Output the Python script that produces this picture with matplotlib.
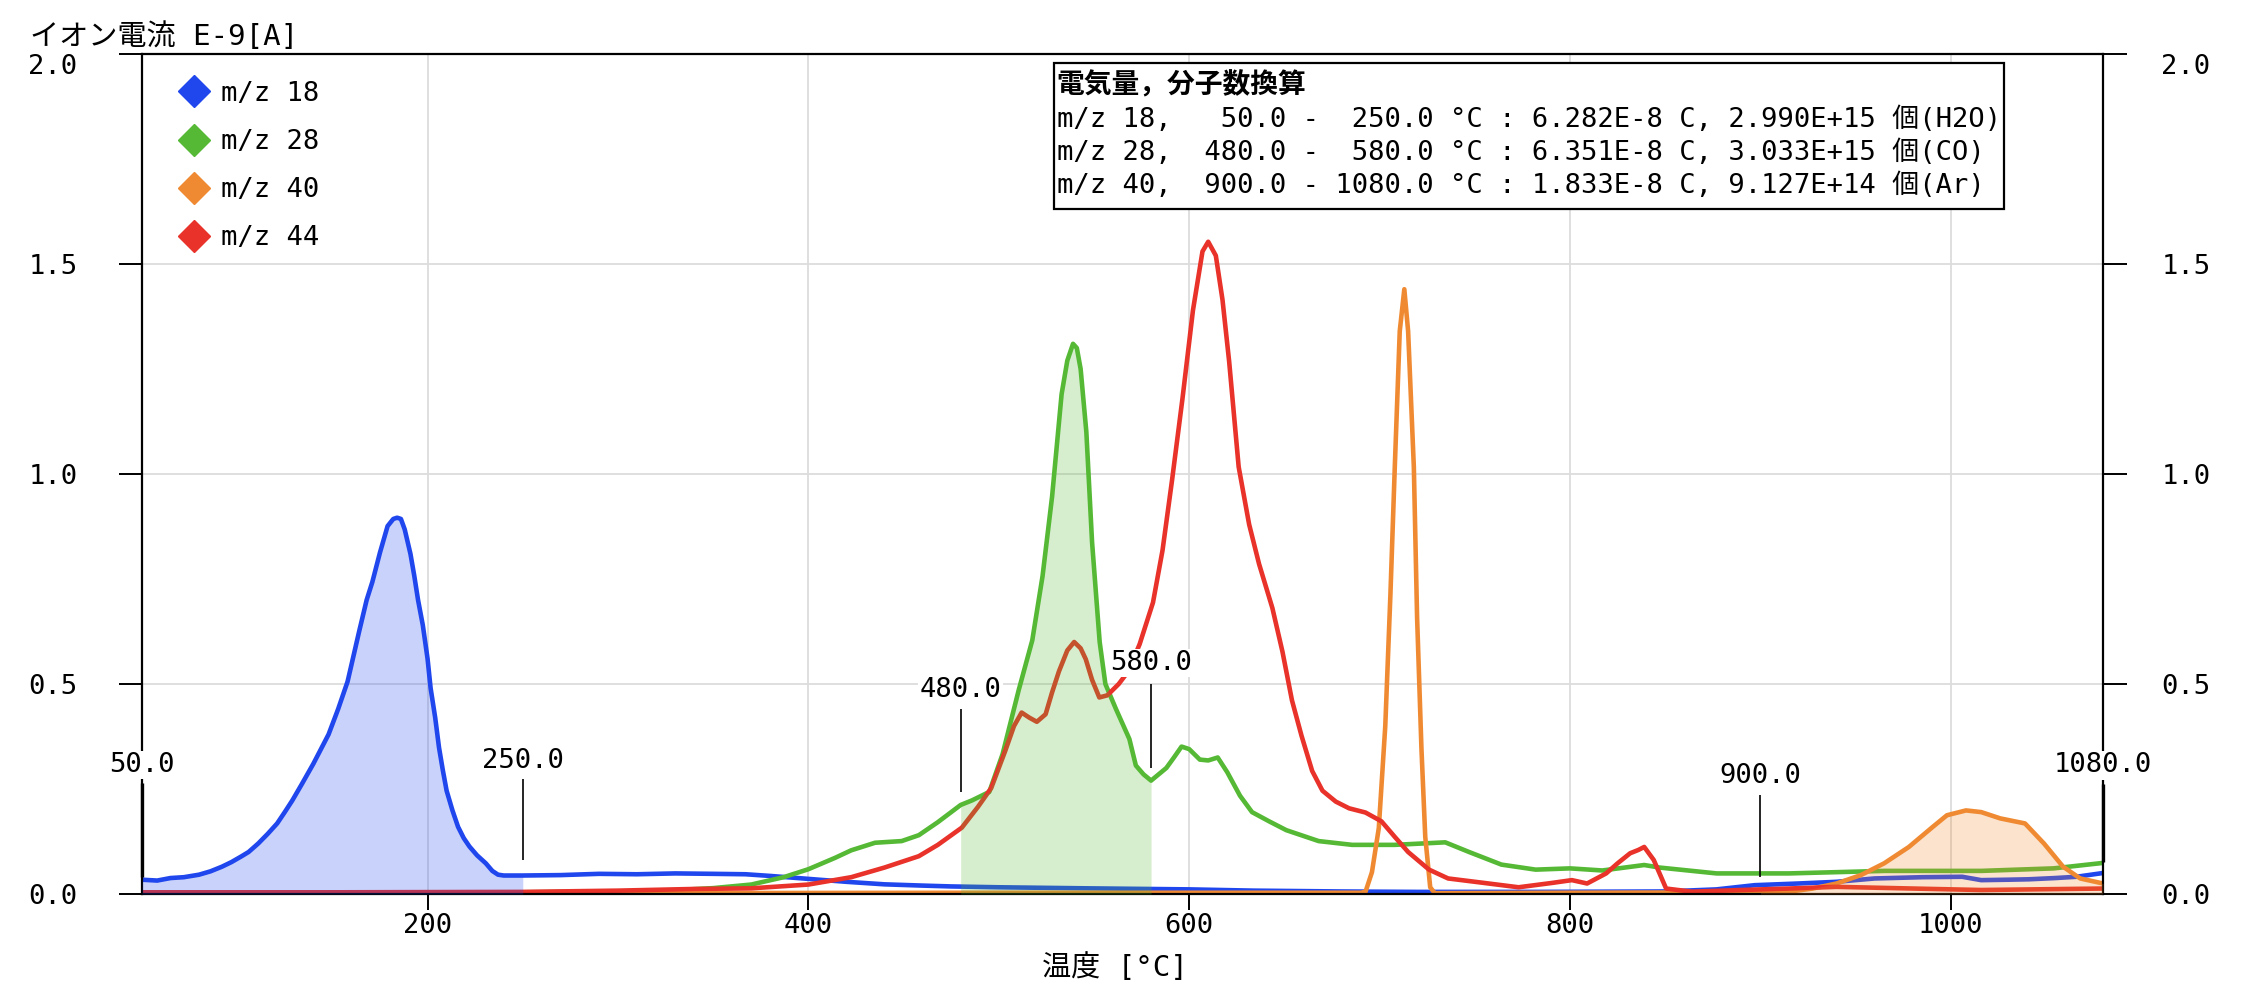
import matplotlib
matplotlib.use("Agg")
import matplotlib.pyplot as plt
import numpy as np
from matplotlib.lines import Line2D
from matplotlib.patches import Rectangle

# ---------------- data ----------------
series_labels = ["m/z 18", "m/z 28", "m/z 40", "m/z 44"]

t18 = [50, 58, 65, 72, 80, 86, 92, 97, 102, 106, 111, 116, 121, 125, 129, 134, 140, 144, 148,
       153, 158, 161, 164, 168, 171, 175, 179, 182, 184, 186, 188, 191, 193, 195, 197.5, 200,
       201.6, 204, 206, 208, 210, 213, 216, 219, 222, 226, 230.6, 234, 237, 240, 250, 270, 290,
       310, 330, 350, 367, 380, 400, 420, 440, 460, 475, 500, 546, 600, 634, 680, 720, 780, 850,
       877, 897, 920, 940, 960, 985, 1006, 1016, 1030, 1041, 1055, 1066, 1080]
i18 = [0.034, 0.032, 0.038, 0.040, 0.046, 0.054, 0.065, 0.076, 0.089, 0.10, 0.12, 0.143, 0.168,
       0.195, 0.223, 0.262, 0.31, 0.345, 0.38, 0.44, 0.506, 0.565, 0.624, 0.70, 0.743, 0.813,
       0.876, 0.893, 0.896, 0.893, 0.868, 0.81, 0.758, 0.70, 0.64, 0.56, 0.49, 0.42, 0.349, 0.295,
       0.246, 0.20, 0.16, 0.133, 0.113, 0.092, 0.073, 0.055, 0.046, 0.044, 0.044, 0.045, 0.048,
       0.047, 0.049, 0.048, 0.047, 0.043, 0.036, 0.029, 0.023, 0.020, 0.018, 0.016, 0.0135, 0.011,
       0.008, 0.006, 0.005, 0.005, 0.006, 0.011, 0.021, 0.025, 0.029, 0.037, 0.040, 0.041, 0.033,
       0.034, 0.035, 0.038, 0.041, 0.050]

t28 = [50, 150, 250, 300, 330, 350, 370, 387, 400, 414, 422.5, 435, 449, 458, 468, 480, 486, 495,
       502, 510.5, 517.6, 523, 528, 533, 536, 539, 541, 543, 546, 549, 553, 556, 561.6, 568.6, 572,
       576, 580, 584, 588, 592, 596, 600, 605.6, 610, 615, 620, 626.7, 633, 642, 651, 668, 685.6,
       708, 734.5, 747, 764, 782, 800, 817, 839, 847, 877, 915, 965, 1016, 1054, 1080]
i28 = [0.003, 0.003, 0.004, 0.006, 0.009, 0.014, 0.0225, 0.04, 0.059, 0.086, 0.104, 0.122, 0.126,
       0.14, 0.171, 0.212, 0.223, 0.243, 0.333, 0.486, 0.604, 0.757, 0.946, 1.19, 1.27, 1.31, 1.30,
       1.25, 1.10, 0.838, 0.60, 0.50, 0.44, 0.369, 0.306, 0.285, 0.27, 0.285, 0.30, 0.325, 0.351,
       0.345, 0.32, 0.318, 0.325, 0.29, 0.234, 0.195, 0.173, 0.152, 0.126, 0.117, 0.117, 0.123,
       0.10, 0.07, 0.058, 0.061, 0.056, 0.069, 0.063, 0.049, 0.049, 0.055, 0.055, 0.061, 0.074]

t40 = [50, 300, 500, 690, 692.6, 696, 699.6, 703, 705.7, 708, 710.6, 713, 715, 718, 719.7, 722,
       724, 726.6, 729, 800, 900, 915, 927.5, 940, 952.8, 965, 978, 990.6, 998, 1008, 1016, 1026,
       1039, 1049, 1059, 1068, 1080]
i40 = [0.002, 0.002, 0.003, 0.003, 0.005, 0.052, 0.157, 0.40, 0.713, 1.017, 1.34, 1.44, 1.34,
       1.017, 0.66, 0.346, 0.136, 0.016, 0.002, 0.003, 0.004, 0.0055, 0.013, 0.025, 0.045, 0.073,
       0.112, 0.16, 0.1875, 0.199, 0.195, 0.18, 0.168, 0.12, 0.065, 0.037, 0.025]

t44 = [50, 150, 250, 300, 340, 370, 400, 422.5, 440, 458, 468, 480.6, 489, 496, 503.5, 508, 512,
       516, 520, 524.6, 528, 531.6, 536, 539.6, 543, 545.7, 549, 552.8, 557, 563, 568, 574, 581,
       586, 591, 596.5, 602, 607, 610, 614, 617.5, 621, 626, 631.5, 636.7, 643.7, 649, 654, 659,
       664.6, 670, 677, 684, 692.6, 701, 708, 715, 726, 736, 755.5, 773, 790, 801, 809, 819, 825,
       831.6, 836, 839, 844, 850.5, 864, 889.6, 915, 940, 980, 1016, 1080]
i44 = [0.004, 0.004, 0.005, 0.008, 0.012, 0.0135, 0.0225, 0.04, 0.063, 0.09, 0.117, 0.158, 0.207,
       0.252, 0.342, 0.40, 0.432, 0.42, 0.41, 0.428, 0.48, 0.53, 0.58, 0.60, 0.585, 0.559, 0.51,
       0.468, 0.473, 0.50, 0.53, 0.595, 0.694, 0.818, 0.985, 1.18, 1.39, 1.53, 1.553, 1.52, 1.415,
       1.268, 1.017, 0.88, 0.786, 0.681, 0.577, 0.461, 0.377, 0.293, 0.246, 0.22, 0.204, 0.194,
       0.173, 0.136, 0.10, 0.058, 0.037, 0.026, 0.016, 0.026, 0.033, 0.025, 0.049, 0.073, 0.097,
       0.105, 0.112, 0.081, 0.013, 0.0055, 0.0095, 0.013, 0.017, 0.013, 0.0095, 0.013]

# integration ranges (series index, start, end)
fill_ranges = [(0, 50, 250), (1, 480, 580), (2, 900, 1080)]
marker_temps = [50, 250, 480, 580, 900, 1080]
# (line bottom, line top, label centre) in axis units
marker_levels = [(0.04, 0.264, 0.307), (0.081, 0.274, 0.317), (0.243, 0.441, 0.486),
                 (0.30, 0.50, 0.55), (0.041, 0.235, 0.28), (0.075, 0.263, 0.306)]

box_title = "電気量，分子数換算"
box_mz = ["m/z 18", "m/z 28", "m/z 40"]
box_ranges = [(50.0, 250.0), (480.0, 580.0), (900.0, 1080.0)]
box_charge = ["6.282E-8", "6.351E-8", "1.833E-8"]
box_count = ["2.990E+15", "3.033E+15", "9.127E+14"]
box_species = ["H2O", "CO", "Ar"]

xticks = [200, 400, 600, 800, 1000]
yticks = [0.0, 0.5, 1.0, 1.5, 2.0]

# ---------------- style ----------------
colors = ["#2046ee", "#55b935", "#f08a32", "#e8322a"]
JP = ["Noto Sans CJK JP", "DejaVu Sans"]
MONO = ["DejaVu Sans Mono", "Noto Sans CJK JP"]
plt.rcParams["font.family"] = MONO
FS = 19.5

fig = plt.figure(figsize=(22.5, 10.08), dpi=100)
L, R, T, B = 0.0631, 0.9347, 0.9464, 0.1131
ax = fig.add_axes([L, B, R - L, T - B])

ts = [np.array(t18), np.array(t28), np.array(t40), np.array(t44)]
vs = [np.array(i18), np.array(i28), np.array(i40), np.array(i44)]

for t, v, c in zip(ts, vs, colors):
    ax.plot(t, v, color=c, lw=3.3, zorder=2, solid_joinstyle="round")

for idx, a, b in fill_ranges:
    t, v = ts[idx], vs[idx]
    ax.fill_between(t, 0, v, where=(t >= a) & (t <= b), color=colors[idx],
                    alpha=0.24, lw=0, zorder=3)

for Tm, (y0, y1, yl) in zip(marker_temps, marker_levels):
    thick = Tm in (marker_temps[0], marker_temps[-1])
    ax.plot([Tm, Tm], [y0, y1], color="black", lw=2.4 if thick else 1.2,
            zorder=4, clip_on=False, solid_capstyle="butt")
    ax.text(Tm, yl, f"{Tm:.1f}", ha="center", va="center", fontsize=FS, zorder=10,
            clip_on=False, bbox=dict(facecolor="white", edgecolor="none", pad=1.0))

ax.set_xlim(50, 1080)
ax.set_ylim(0, 2.0)
ax.set_xticks(xticks)
ax.set_yticks(yticks)
ax.set_yticklabels([f"{y:.1f}" for y in yticks])
ax.grid(True, color="#dcdcdc", lw=1.3, zorder=0)
ax.set_axisbelow(True)
ax.tick_params(axis="x", direction="out", length=11.5, width=1.4, pad=2, labelsize=FS)
ax.tick_params(axis="y", direction="out", length=16.5, width=1.4, pad=30, labelsize=FS)
for s in ax.spines.values():
    s.set_linewidth(1.6)
    s.set_color("black")

ax2 = ax.twinx()
ax2.set_ylim(0, 2.0)
ax2.set_yticks(yticks)
ax2.set_yticklabels([f"{y:.1f}" for y in yticks])
ax2.tick_params(axis="y", direction="out", length=17, width=1.4, pad=25, labelsize=FS)
for s in ax2.spines.values():
    s.set_visible(False)

ax.yaxis.get_major_ticks()[-1].label1.set_va("top")
ax2.yaxis.get_major_ticks()[-1].label2.set_va("top")

# legend
handles = [Line2D([], [], marker="D", color=c, ls="none", markersize=16) for c in colors]
ax.legend(handles, series_labels, loc="upper left", bbox_to_anchor=(0.0128, 0.981),
          frameon=False, fontsize=FS, handletextpad=0.4, labelspacing=0.82,
          handlelength=1.2, borderaxespad=0.0, borderpad=0.4)

# info box
ax.add_patch(Rectangle((0.4653, 0.8157), 0.4842, 0.1736, transform=ax.transAxes,
                       facecolor="white", edgecolor="black", lw=1.6, zorder=11))
ax.text(0.4664, 0.962, box_title, transform=ax.transAxes, ha="left", va="center",
        fontsize=20, fontweight="bold", family=JP, zorder=12)
lines = []
for mz, (a, b), q, n, sp in zip(box_mz, box_ranges, box_charge, box_count, box_species):
    lines.append(f"{mz}, {a:6.1f} - {b:6.1f} °C : {q} C, {n} 個({sp})")
ax.text(0.4664, 0.8823, "\n".join(lines), transform=ax.transAxes, ha="left", va="center",
        fontsize=FS, family=MONO, linespacing=1.32, zorder=12)

fig.text(30 / 2250, 1 - 37 / 1008, "イオン電流 E-9[A]", ha="left", va="center",
         fontsize=21, family=MONO)
fig.text(1115 / 2250, 1 - 968 / 1008, "温度 [°C]", ha="center", va="center",
         fontsize=21, family=MONO)

fig.savefig("out.png", dpi=100)
